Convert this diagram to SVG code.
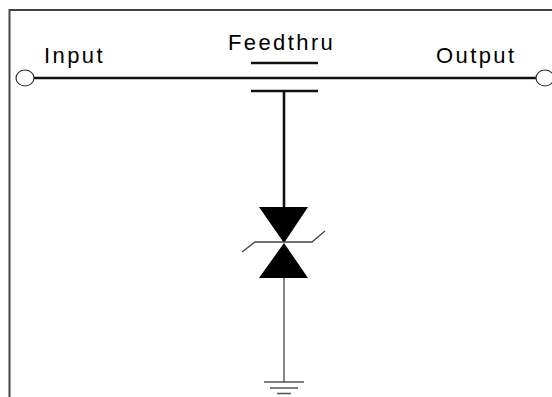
<svg xmlns="http://www.w3.org/2000/svg" width="552" height="397" viewBox="0 0 552 397">
<style>
.t{font-family:"Liberation Sans",Arial,sans-serif;font-size:22px;letter-spacing:2.4px;fill:#000}
.w{fill:none;stroke:#111;stroke-width:2.6}
.f{fill:none;stroke:#444;stroke-width:2}
.g{fill:none;stroke:#555;stroke-width:1.4}
.c{fill:#fff;stroke:#333;stroke-width:1.2}
</style>
<rect width="552" height="397" fill="#fff"/>
<path id="frame" class="f" d="M9.500 397V10H552"/>
<g id="connectors">
<path class="w" d="M34 78H536"/>
<path class="w" d="M284 91V208"/>
<path class="g" d="M284 278V382"/>
</g>
<g id="input"><ellipse class="c" cx="25" cy="78" rx="9" ry="8"/><text class="t" x="44" y="62.500">Input</text></g>
<g id="output"><ellipse class="c" cx="545" cy="78" rx="9" ry="8"/><text class="t" x="436" y="62.500">Output</text></g>
<g id="feedthru"><text class="t" x="228" y="49.500">Feedthru</text><path class="w" d="M251 63H318M251 91H318"/></g>
<g id="tvs">
<path fill="#000" d="M259 207H308L284 243L308 278H259L284 243Z"/>
<path fill="none" stroke="#444" stroke-width="1.300" d="M242 252L255 242H312L325 231"/>
</g>
<g id="ground"><path class="g" d="M264 382H304M270 388H298M277 393.500H291"/></g>
</svg>
